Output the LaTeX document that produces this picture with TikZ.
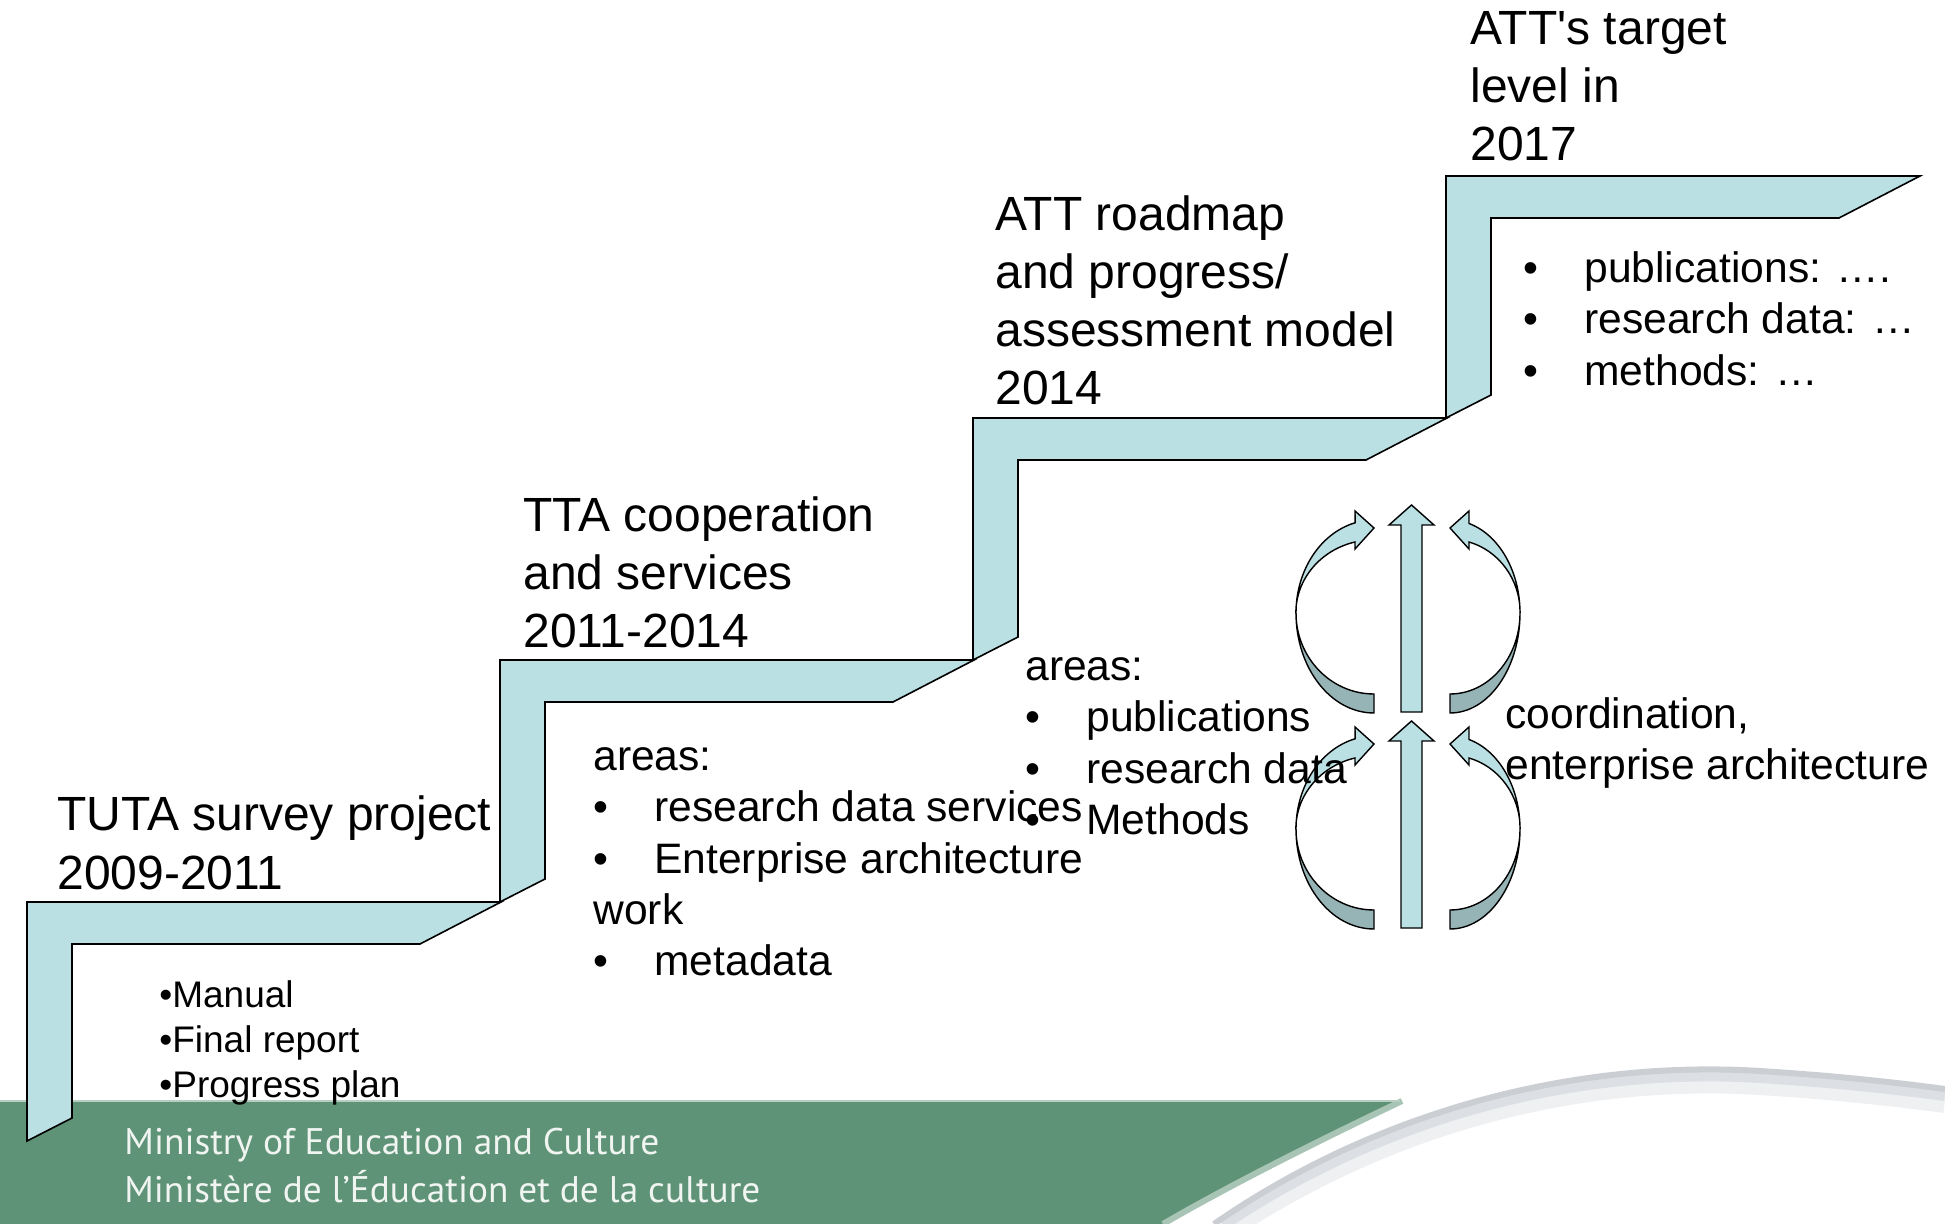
\documentclass[tikz,border=0pt]{standalone}
\usepackage{fontspec}
\setmainfont{Liberation Sans}
\newfontfamily\footfont{PT Sans}
\usepackage{graphicx}
\definecolor{stair}{RGB}{186,224,227}
\definecolor{arrowdark}{RGB}{150,180,182}
\definecolor{footgreen}{RGB}{95,147,120}
\definecolor{foottext}{RGB}{240,245,241}
\definecolor{swooshA}{RGB}{238,240,242}
\definecolor{swooshB}{RGB}{220,223,227}
\definecolor{swooshC}{RGB}{203,207,212}
\newcommand\stairL[4]{%
  \draw[stairstep] (#1,#4) -- (#1,#2) -- (#3,#2) -- ({#3-81},{#2+42})
    -- ({#1+45},{#2+42}) -- ({#1+45},{#4-23}) -- cycle;}
\newcommand\bl{\makebox[30.5pt][l]{\textbullet}}
\newcommand\straightquote{{\XeTeXglyph\XeTeXcharglyph"0027\relax}}
% #1 = horizontal radius, #2 = angle where the head starts
\newcommand\circarrow[2]{%
  \filldraw[arrowback] ({1374-#1},613) arc[start angle=180, end angle=90, x radius=#1, y radius=100]
    -- (1374,694) arc[start angle=90, end angle=180, x radius=#1, y radius=81] -- cycle;
  \filldraw[arrowfront] ({1374-#1},613) arc[start angle=180, end angle=#2, x radius=#1, y radius=93]
    -- (1355,511) -- (1374,528) -- (1355,549) -- (1355,542)
    arc[start angle=#2, end angle=180, x radius=#1, y radius=73] -- cycle;}
\newcommand\uparrowshape{%
  \filldraw[arrowfront] (1401,712) -- (1401,525) -- (1389,525) -- (1411.5,505)
    -- (1434,525) -- (1422,525) -- (1422,712) -- cycle;}
\begin{document}
\begin{tikzpicture}[x=0.5pt, y=-0.5pt, line join=miter,
  stairstep/.style={fill=stair, draw=black, line width=0.8pt},
  arrowfront/.style={fill=stair, draw=black, line width=0.7pt},
  arrowback/.style={fill=arrowdark, draw=black, line width=0.7pt},
  title/.style={anchor=north west, inner sep=0pt, align=left, text=black,
    font=\fontsize{24}{29}\selectfont},
  body/.style={anchor=north west, inner sep=0pt, align=left, text=black,
    font=\fontsize{21.3}{25.7}\selectfont},
  small/.style={anchor=north west, inner sep=0pt, align=left, text=black,
    font=\fontsize{18.5}{22.6}\selectfont},
  foot/.style={anchor=base west, inner sep=0pt, text=foottext,
    font=\footfont\fontsize{18.5}{22}\selectfont}]
\useasboundingbox (0,0) rectangle (1945,1224);
\fill[white] (0,0) rectangle (1945,1224);

% footer band
\fill[footgreen] (0,1101) -- (1402,1101) .. controls (1320,1140) and (1230,1185) .. (1163,1224) -- (0,1224) -- cycle;
\draw[footgreen!55!white, line width=3pt] (1402,1101) .. controls (1320,1140) and (1230,1185) .. (1163,1224);
\draw[footgreen!45!white, line width=0.6pt] (0,1101) -- (1400,1101);
% swoosh
\draw[swooshA, line width=13pt] (1232,1224) .. controls (1410,1108) and (1600,1072) .. (1760,1082) .. controls (1840,1087) and (1900,1094) .. (1945,1100);
\draw[swooshB, line width=7pt] (1222,1224) .. controls (1404,1102) and (1600,1066) .. (1760,1076) .. controls (1840,1081) and (1900,1088) .. (1945,1094);
\draw[swooshC, line width=3pt] (1214,1224) .. controls (1398,1097) and (1600,1061) .. (1760,1071) .. controls (1840,1076) and (1900,1083) .. (1945,1089);

\node[foot] (min1) at (124,1154) {\resizebox{267.5pt}{\height}{Ministry of Education and Culture}};
\node[foot] (min2) at (124,1202) {\resizebox{318pt}{\height}{Ministère de l’Éducation et de la culture}};

% staircase
\stairL{27}{902}{501}{1141}
\stairL{500}{660}{974}{902}
\stairL{973}{418}{1447}{660}
\stairL{1446}{176}{1920}{418}

% circular arrows
\circarrow{78}{256}
\uparrowshape
\begin{scope}[shift={(2824,0)}, xscale=-1]
  \circarrow{70}{254.3}
\end{scope}
\begin{scope}[shift={(0,216)}]
  \circarrow{78}{256}
  \uparrowshape
  \begin{scope}[shift={(2824,0)}, xscale=-1]
    \circarrow{70}{254.3}
  \end{scope}
\end{scope}

% texts
\node[title] (tuta) at (57,790) {\strut TUTA survey project\\2009-2011};
\node[title] (tta) at (523,491) {\strut TTA cooperation\\and services\\2011-2014};
\node[title] (roadmap) at (995,190) {\strut ATT roadmap\\and progress/\\assessment model\\2014};
\node[title] (target) at (1470,4) {\strut ATT\straightquote s target\\level in\\2017};

\node[small] (deliv) at (159,975) {\strut\textbullet Manual\\\textbullet Final report\\\textbullet Progress plan};
\node[body] (areas2) at (593,734) {\strut areas:\\\bl research data services\\\bl Enterprise architecture\\work\\\bl metadata};
\node[body] (areas3) at (1025,644) {\strut areas:\\\bl publications\\\bl research data\\\bl Methods};
\node[body] (targetlist) at (1523,246) {\strut\bl publications: ….\\\bl research data: …\\\bl methods: …};
\node[body] (coord) at (1505,692) {\strut coordination,\\enterprise architecture};
\end{tikzpicture}
\end{document}
